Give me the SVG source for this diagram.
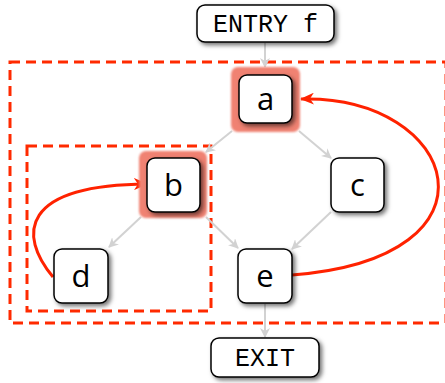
<svg xmlns="http://www.w3.org/2000/svg" width="445" height="383" viewBox="0 0 445 383">
<defs>
<filter id="sh" x="-30%" y="-30%" width="160%" height="160%">
<feDropShadow dx="2.5" dy="2.5" stdDeviation="2" flood-color="#000" flood-opacity="0.55"/>
</filter>
<filter id="glow" x="-20%" y="-20%" width="140%" height="140%">
<feGaussianBlur stdDeviation="0.8"/>
</filter>
<marker id="ga" markerWidth="10" markerHeight="10" refX="9" refY="5" orient="auto" markerUnits="userSpaceOnUse">
<path d="M0,0 L10,5 L0,10 L3,5 Z" fill="#d2d2d2"/>
</marker>
<marker id="ra" markerWidth="14" markerHeight="12" refX="13" refY="6" orient="auto" markerUnits="userSpaceOnUse">
<path d="M0,0 L14,6 L0,12 L4,6 Z" fill="#ff2200"/>
</marker>
</defs>
<style>
.region{fill:none;stroke:#ff2a00;stroke-width:3;stroke-dasharray:10 6}
.edge{fill:none;stroke:#d2d2d2;stroke-width:2;marker-end:url(#ga)}
.back{fill:none;stroke:#ff2200;stroke-width:3;marker-end:url(#ra)}
.box{fill:#fff;stroke:#000;stroke-width:1.5;filter:url(#sh)}
.hl{fill:#f08272;filter:url(#glow)}
.lbl{font-family:"Open Sans","DejaVu Sans",sans-serif;font-size:31px;text-anchor:middle;fill:#000}
.mono{font-family:"Liberation Mono",monospace;font-size:25px;text-anchor:middle;fill:#000}
</style>
<g id="regions">
<rect class="region" x="10" y="62" width="436" height="261"/>
<rect class="region" x="27" y="146" width="184" height="165"/>
</g>
<g id="connectors">
<line class="edge" x1="265" y1="43" x2="265" y2="67"/>
<line class="edge" x1="232" y1="131" x2="206" y2="152"/>
<line class="edge" x1="299" y1="131" x2="331" y2="158"/>
<line class="edge" x1="141" y1="217" x2="109" y2="247"/>
<line class="edge" x1="206" y1="217" x2="238" y2="248"/>
<line class="edge" x1="331" y1="212" x2="292" y2="249"/>
<line class="edge" x1="265" y1="304" x2="265" y2="337"/>
<path class="back" d="M292,275 C512,258 458,95 301,99"/>
<path class="back" d="M53,277 C18,235 20,185 147,184"/>
</g>
<g id="entry">
<rect class="box" x="197" y="5" width="137" height="37" rx="8"/>
<text class="mono" x="265.5" y="32">ENTRY f</text>
</g>
<g id="a">
<rect class="hl" x="231" y="67" width="69" height="65" rx="7"/>
<rect class="box" x="239" y="75" width="53" height="48" rx="8"/>
<text class="lbl" x="265.5" y="110">a</text>
</g>
<g id="b">
<rect class="hl" x="139" y="151" width="68" height="67" rx="7"/>
<rect class="box" x="147" y="158" width="53" height="54" rx="8"/>
<text class="lbl" x="173.5" y="196">b</text>
</g>
<g id="c">
<rect class="box" x="331" y="158" width="53" height="54" rx="8"/>
<text class="lbl" x="357.5" y="196">c</text>
</g>
<g id="d">
<rect class="box" x="54" y="249" width="54" height="54" rx="8"/>
<text class="lbl" x="81" y="287">d</text>
</g>
<g id="e">
<rect class="box" x="238" y="249" width="54" height="54" rx="8"/>
<text class="lbl" x="265" y="287">e</text>
</g>
<g id="exit">
<rect class="box" x="211" y="338" width="108" height="39" rx="8"/>
<text class="mono" x="265" y="366">EXIT</text>
</g>
</svg>
